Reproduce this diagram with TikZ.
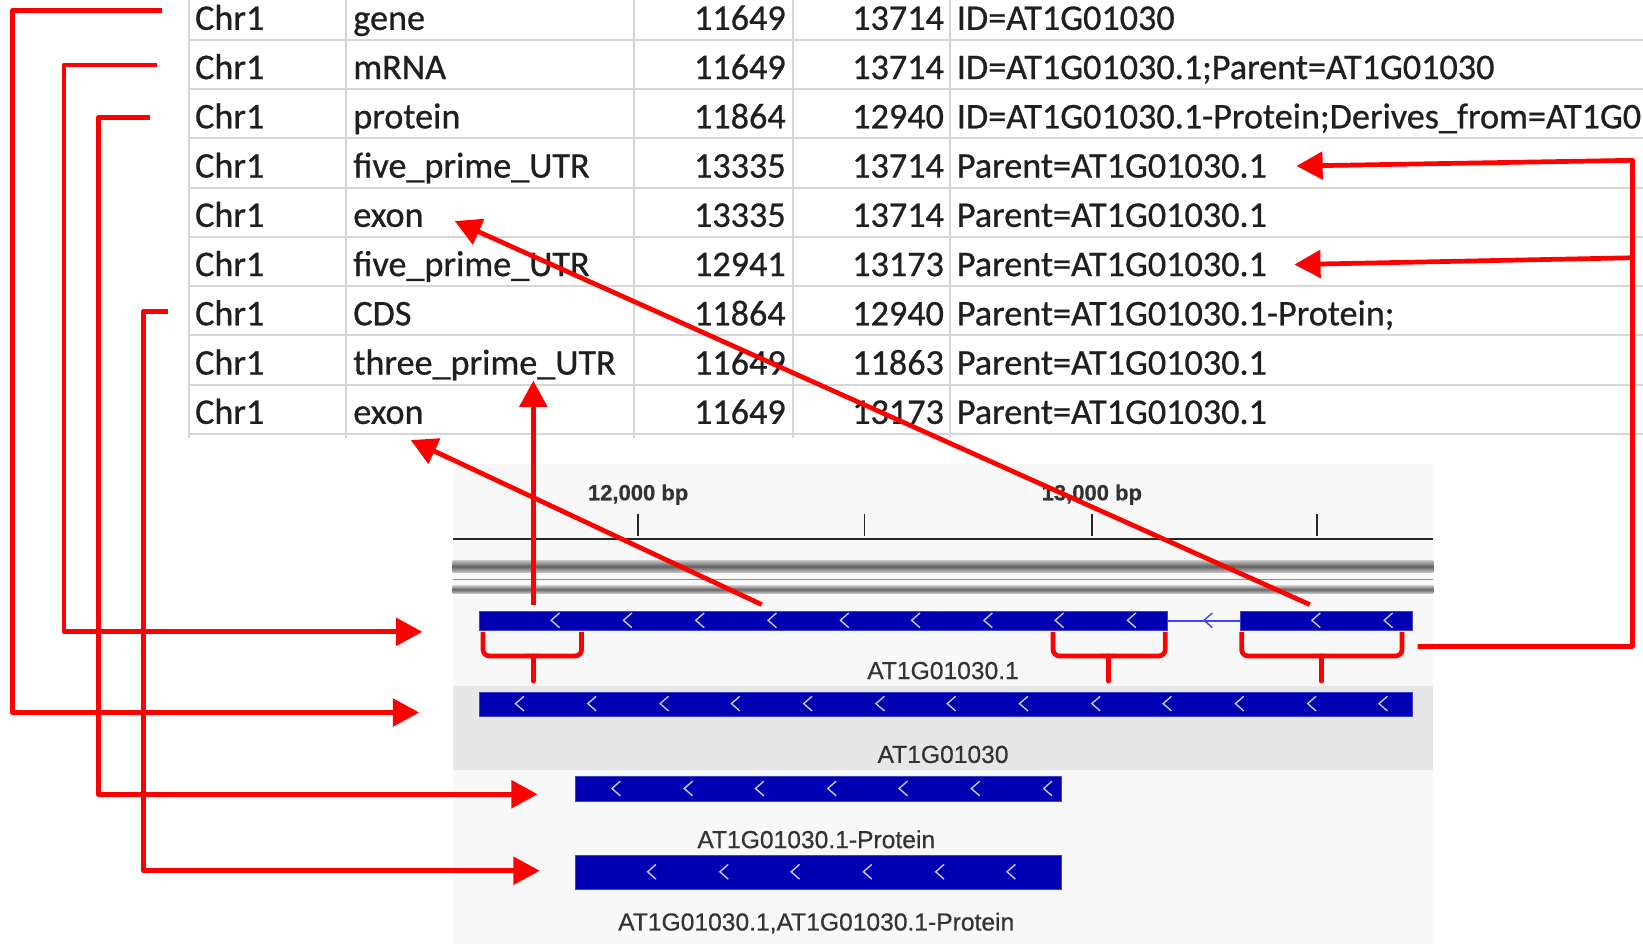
\documentclass[tikz,border=0pt]{standalone}
\usepackage{fontspec}
\usepackage{tikz}
\usetikzlibrary{arrows.meta, calc}
\newfontfamily\cellfont[FakeBold=0.7]{Carlito}
\newfontfamily\igvfont[FakeBold=0.5]{Liberation Sans}
\definecolor{igvblue}{RGB}{0,0,178}
\definecolor{gridgray}{RGB}{214,214,214}
\definecolor{panelgray}{RGB}{248,248,248}
\definecolor{generow}{RGB}{231,231,231}
\definecolor{annot}{RGB}{255,0,0}

\tikzset{
  cell/.style={font=\cellfont\fontsize{34.5}{40}\selectfont, inner sep=0pt, text=black!88},
  tracklabel/.style={font=\igvfont\fontsize{23.5}{28}\selectfont, inner sep=0pt, text=black!80},
  rulerlabel/.style={font=\igvfont\bfseries\fontsize{21}{25}\selectfont, inner sep=0pt, text=black!80},
  gridline/.style={draw=gridgray, line width=2pt},
  featbar/.style={fill=igvblue, draw=igvblue!75!white, line width=0.8pt, inner sep=0pt, anchor=north west},
  redline/.style={draw=annot, line width=4.5pt, line join=round},
  redarrow/.style={redline, -{Triangle[length=25pt,width=26pt]}},
  bracket/.style={redline, rounded corners=6pt},
  chevron/.pic={\draw[white!80!igvblue, line width=1.3pt] (4,-7) -- (-4,0) -- (4,7);},
  intronchev/.pic={\draw[blue!75, line width=1.3pt] (4,-7) -- (-4,0) -- (4,7);},
}

\begin{document}
\begin{tikzpicture}[x=1pt, y=-1pt]
    \useasboundingbox (0,0) rectangle (1568,901);
    \clip (0,0) rectangle (1568,901);

    % gff table
    \foreach \y in {38,85,...,414} \draw[gridline] (180,\y) -- (1568,\y);
    \foreach \x in {180,330,605,757,907} \draw[gridline] (\x,0) -- (\x,418);

    \foreach \i/\ty/\st/\en/\attr in {
        1/gene/11649/13714/{ID=AT1G01030},
        2/mRNA/11649/13714/{ID=AT1G01030.1;Parent=AT1G01030},
        3/protein/11864/12940/{ID=AT1G01030.1-Protein;Derives\_from=AT1G0},
        4/five\_prime\_UTR/13335/13714/{Parent=AT1G01030.1},
        5/exon/13335/13714/{Parent=AT1G01030.1},
        6/five\_prime\_UTR/12941/13173/{Parent=AT1G01030.1},
        7/CDS/11864/12940/{Parent=AT1G01030.1-Protein;},
        8/three\_prime\_UTR/11649/11863/{Parent=AT1G01030.1},
        9/exon/11649/13173/{Parent=AT1G01030.1}}
    {
        \pgfmathsetmacro{\yb}{28.5+47*(\i-1)}
        \node[cell, anchor=base west] (chr\i) at (186,\yb) {Chr1};
        \node[cell, anchor=base west] (ty\i) at (337,\yb) {\ty};
        \node[cell, anchor=base east] (st\i) at (750,\yb) {\st};
        \node[cell, anchor=base east] (en\i) at (901,\yb) {\en};
        \node[cell, anchor=base west] (at\i) at (913,\yb) {\attr};
    }

    % browser panel
    \fill[panelgray] (432,443) rectangle (1368,901);
    \fill[generow] (432,655) rectangle (1368,735);
    \draw[black!85, line width=1.8pt] (432,514) -- (1368,514);
    \foreach \x in {609,825,1042,1257} \draw[black!85, line width=1.5pt] (\x,491) -- (\x,512);
    \node[rulerlabel] (lab12) at (609,472) {12,000 bp};
    \node[rulerlabel] (lab13) at (1042,472) {13,000 bp};
    \shade[top color=black!25, bottom color=black!25, middle color=black!62] (432,535) rectangle (1368,546);
    \draw[black!45, line width=1.5pt] (432,553) -- (1368,553);
    \shade[top color=black!25, bottom color=black!25, middle color=black!60] (432,559) rectangle (1368,566);

    % tracks
    \node[featbar, minimum width=657pt, minimum height=18pt] (exonA) at (457,583) {};
    \node[featbar, minimum width=165pt, minimum height=18pt] (exonB) at (1183,583) {};
    \draw[blue!75, line width=1.5pt] (exonA.east) -- (exonB.west);
    \pic at (1153,592) {intronchev};
    \foreach \x in {530,599,668,737,806,874,943,1011,1080,1256,1325} \pic at (\x,592) {chevron};
    \node[tracklabel] (mrnalab) at (900,640) {AT1G01030.1};

    \node[featbar, minimum width=891pt, minimum height=23pt] (genebar) at (457,660) {};
    \foreach \x in {496,565,634,702,771,840,908,977,1046,1114,1183,1252,1320} \pic at (\x,671.5) {chevron};
    \node[tracklabel] (genelab) at (900,720) {AT1G01030};

    \node[featbar, minimum width=464pt, minimum height=23pt] (protbar) at (549,741) {};
    \foreach \x in {588,657,725,794,862,931,1000} \pic at (\x,752.5) {chevron};
    \node[tracklabel] (protlab) at (779,801) {AT1G01030.1-Protein};

    \node[featbar, minimum width=464pt, minimum height=32pt] (cdsbar) at (549,816) {};
    \foreach \x in {622,691,759,828,897,965} \pic at (\x,832) {chevron};
    \node[tracklabel] (cdslab) at (779,881) {AT1G01030.1,AT1G01030.1-Protein};

    % braces under the exons
    \draw[bracket] (461,603) -- (461,626) -- (555,626) -- (555,603);
    \draw[bracket] (1005,603) -- (1005,626) -- (1112,626) -- (1112,603);
    \draw[bracket] (1185,603) -- (1185,626) -- (1338,626) -- (1338,603);
    \foreach \x in {509,1058,1261} {
        \draw[redline, line cap=round] (\x,626) -- (\x,650);
        \fill[annot] (\x-8,624) .. controls (\x-2,626) .. (\x-2,636) -- (\x+2,636) .. controls (\x+2,626) .. (\x+8,624) -- cycle;
    }

    % red connectors
    \coordinate (genefrom) at (155,10);
    \coordinate (genetip) at (400,680);
    \coordinate (mrnafrom) at (150,62);
    \coordinate (mrnatip) at (403,603);
    \coordinate (protfrom) at (143,112);
    \coordinate (prottip) at (513,758);
    \coordinate (cdsfrom) at (160,297);
    \coordinate (cdstip) at (515,831);
    \draw[redarrow] (genefrom) -- (12,10) |- (genetip);
    \draw[redarrow] (mrnafrom) -- (61,62) |- (mrnatip);
    \draw[redarrow] (protfrom) -- (94,112) |- (prottip);
    \draw[redarrow] (cdsfrom) -- (137,297) |- (cdstip);

    \coordinate (utrAfrom) at (509,577);
    \coordinate (exonAfrom) at (727,577);
    \coordinate (exonBfrom) at (1250,577);
    \draw[redarrow] (utrAfrom) -- (ty8.south -| utrAfrom);
    \draw[redarrow] (exonAfrom) -- (392,420);
    \draw[redarrow] (exonBfrom) -- (434,211);

    \coordinate (utrBfrom) at (1353,617);
    \draw[redarrow] (utrBfrom) -| (1558,153) -- ([xshift=28pt]at4.east);
    \draw[redarrow] (1558,246) -- ([xshift=26pt]at6.east);
\end{tikzpicture}
\end{document}
